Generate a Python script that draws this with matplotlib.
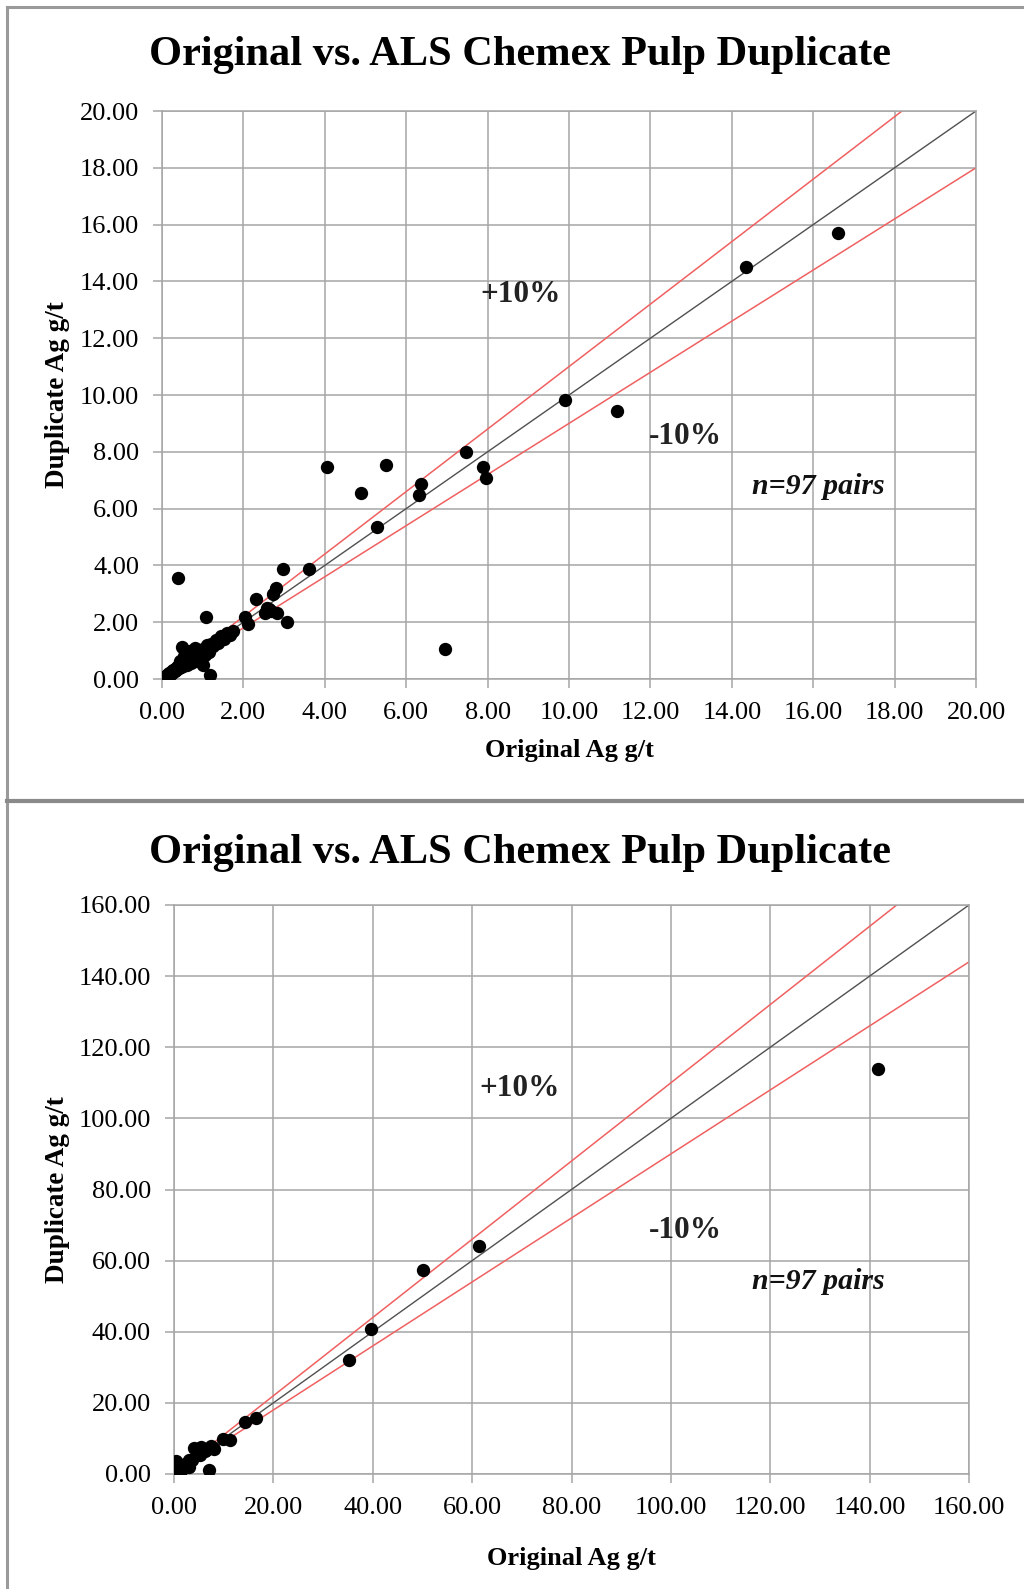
import matplotlib
matplotlib.use("Agg")
import matplotlib.pyplot as plt
from matplotlib.lines import Line2D
import numpy as np

# ---- data (Original Ag g/t, Duplicate Ag g/t), n = 97 pairs ----
original = [
    0.02, 0.04, 0.05, 0.06, 0.08, 0.09, 0.10, 0.12, 0.13, 0.15,
    0.16, 0.18, 0.19, 0.21, 0.22, 0.24, 0.25, 0.27, 0.28, 0.30,
    0.31, 0.33, 0.35, 0.37, 0.38, 0.40, 0.42, 0.44, 0.46, 0.48,
    0.50, 0.52, 0.55, 0.57, 0.60, 0.62, 0.65, 0.67, 0.70, 0.72,
    0.75, 0.78, 0.80, 0.83, 0.86, 0.90, 0.93, 0.96, 1.01, 1.00,
    1.05, 1.10, 1.15, 1.20, 1.26, 1.32, 1.38, 1.45, 1.52, 1.60,
    1.68, 1.75,
    2.04, 2.12, 2.80, 2.73, 2.57, 2.69, 2.53, 2.62, 2.82,
    16.60, 14.35, 9.90, 11.17, 7.46, 7.88, 7.96, 6.36, 6.31, 4.06,
    5.51, 4.89, 5.29, 6.96, 3.62, 2.98, 3.08, 2.31, 0.40, 1.09, 1.18,
    35.3, 39.6, 50.2, 61.4, 141.6,
]
duplicate = [
    0.03, 0.05, 0.02, 0.08, 0.06, 0.11, 0.09, 0.14, 0.10, 0.17,
    0.13, 0.20, 0.16, 0.24, 0.19, 0.27, 0.22, 0.30, 0.25, 0.33,
    0.28, 0.36, 0.31, 0.42, 0.34, 0.45, 0.38, 0.62, 0.41, 1.12,
    0.55, 0.46, 0.80, 0.50, 0.90, 0.48, 0.95, 0.60, 1.00, 0.58,
    0.98, 0.70, 1.08, 0.62, 0.90, 0.70, 1.00, 0.78, 0.51, 1.05,
    0.85, 1.18, 0.95, 1.25, 1.15, 1.38, 1.28, 1.52, 1.42, 1.62,
    1.55, 1.70,
    2.17, 1.94, 3.22, 2.99, 2.50, 2.38, 2.32, 2.45, 2.34,
    15.70, 14.50, 9.82, 9.43, 8.01, 7.45, 7.06, 6.88, 6.49, 7.45,
    7.52, 6.56, 5.35, 1.06, 3.87, 3.87, 2.00, 2.82, 3.55, 2.17, 0.14,
    32.1, 40.9, 57.3, 64.1, 114.0,
]

title = "Original vs. ALS Chemex Pulp Duplicate"
xlabel = "Original Ag g/t"
ylabel = "Duplicate Ag g/t"
n_label = "n=97 pairs"
plus_label = "+10%"
minus_label = "-10%"

top_ticks = [0, 2, 4, 6, 8, 10, 12, 14, 16, 18, 20]
bot_ticks = [0, 20, 40, 60, 80, 100, 120, 140, 160]

W, H = 1024, 1589
fig = plt.figure(figsize=(W / 100, H / 100), dpi=100)
fig.patch.set_facecolor("white")

SERIF = ["Liberation Serif", "DejaVu Serif"]
GRID = "#a6a6a6"


def px_axes(left, top, right, bottom):
    return fig.add_axes([left / W, 1 - bottom / H, (right - left) / W, (bottom - top) / H])


def draw_panel(ax, lim, ticks, txt_pos):
    ax.set_xlim(0, lim)
    ax.set_ylim(0, lim)
    ax.set_xticks(ticks)
    ax.set_yticks(ticks)
    ax.set_xticklabels([f"{t:.2f}" for t in ticks], family=SERIF, fontsize=19)
    ax.set_yticklabels([f"{t:.2f}" for t in ticks], family=SERIF, fontsize=19)
    ax.tick_params(direction="out", length=6.5, width=1.1, color=GRID, pad=10)
    ax.grid(True, color=GRID, linewidth=1.1)
    ax.set_axisbelow(True)
    for s in ax.spines.values():
        s.set_color(GRID)
        s.set_linewidth(1.1)
    xs = np.array([0, lim])
    ax.plot(xs, xs, color="#505050", linewidth=1.0, zorder=2)
    ax.plot(xs, 1.1 * xs, color="#f06060", linewidth=1.1, zorder=2)
    ax.plot(xs, 0.9 * xs, color="#f06060", linewidth=1.1, zorder=2)
    ax.scatter(original, duplicate, s=92, color="black", zorder=3, linewidths=0)
    (px, py), (mx, my), (nx, ny) = txt_pos
    ax.text(px, py, plus_label, family=SERIF, fontsize=22.5, fontweight="bold",
            ha="center", va="center", color="#222222")
    ax.text(mx, my, minus_label, family=SERIF, fontsize=22.5, fontweight="bold",
            ha="center", va="center", color="#222222")
    ax.text(nx, ny, n_label, family=SERIF, fontsize=21.5, fontweight="bold",
            fontstyle="italic", ha="center", va="center", color="#111111")


# top panel
ax1 = px_axes(162, 111, 976, 679)
draw_panel(ax1, 20, top_ticks, ((8.8, 13.55), (12.85, 8.55), (16.13, 6.78)))
fig.text(520 / W, 1 - 55 / H, title, family=SERIF, fontsize=30.5, fontweight="bold",
         ha="center", va="center")
fig.text(569 / W, 1 - 751 / H, xlabel, family=SERIF, fontsize=19, fontweight="bold",
         ha="center", va="center")
fig.text(58 / W, 1 - 395 / H, ylabel, family=SERIF, fontsize=19.5, fontweight="bold",
         ha="center", va="center", rotation=90)

# bottom panel
ax2 = px_axes(174, 905, 969, 1474)
draw_panel(ax2, 160, bot_ticks, ((69.6, 108.4), (102.9, 68.4), (129.6, 54.2)))
fig.text(520 / W, 1 - 853 / H, title, family=SERIF, fontsize=30.5, fontweight="bold",
         ha="center", va="center")
fig.text(571 / W, 1 - 1559 / H, xlabel, family=SERIF, fontsize=19, fontweight="bold",
         ha="center", va="center")
fig.text(58 / W, 1 - 1190 / H, ylabel, family=SERIF, fontsize=19.5, fontweight="bold",
         ha="center", va="center", rotation=90)

# frame lines
fig.add_artist(Line2D([7 / W, 7 / W], [0, 1 - 7 / H], color="#9a9a9a", linewidth=2.2))
fig.add_artist(Line2D([7 / W, 1], [1 - 7 / H, 1 - 7 / H], color="#9a9a9a", linewidth=2.2))
fig.add_artist(Line2D([7 / W, 1], [1 - 801 / H, 1 - 801 / H], color="#8a8a8a", linewidth=3.0))

fig.savefig("out.png", dpi=100, facecolor="white")
